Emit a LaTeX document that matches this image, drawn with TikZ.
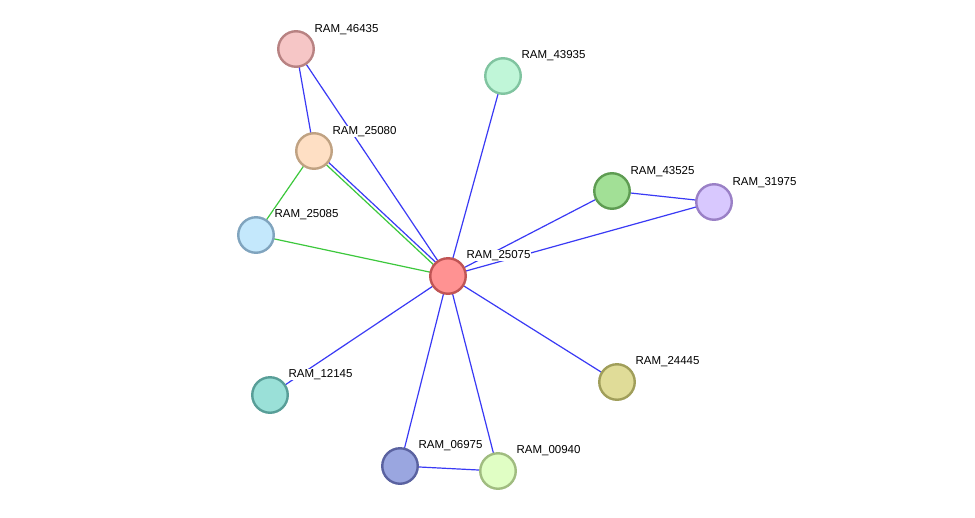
\documentclass[tikz,border=0pt]{standalone}
\usepackage{fontspec}
\setmainfont{Liberation Sans}
\definecolor{eblue}{HTML}{3A3AF5}
\definecolor{egreen}{HTML}{3CC83C}
\definecolor{fA}{HTML}{F6C6C6}\definecolor{dA}{HTML}{B88282}
\definecolor{fB}{HTML}{C0F6D8}\definecolor{dB}{HTML}{80C4A0}
\definecolor{fC}{HTML}{FEDFC4}\definecolor{dC}{HTML}{C0A282}
\definecolor{fD}{HTML}{A2E096}\definecolor{dD}{HTML}{5E9C52}
\definecolor{fE}{HTML}{D8C8FE}\definecolor{dE}{HTML}{9A80C6}
\definecolor{fF}{HTML}{C4E8FC}\definecolor{dF}{HTML}{80A4BE}
\definecolor{fG}{HTML}{FF9292}\definecolor{dG}{HTML}{C05454}
\definecolor{fH}{HTML}{E0DC98}\definecolor{dH}{HTML}{A09E5A}
\definecolor{fI}{HTML}{9AE0D8}\definecolor{dI}{HTML}{589E98}
\definecolor{fJ}{HTML}{9AA6E0}\definecolor{dJ}{HTML}{5A62A0}
\definecolor{fK}{HTML}{E0FEC4}\definecolor{dK}{HTML}{A0BC80}
\tikzset{
  prot/.style={circle, minimum size=35.5pt, inner sep=0pt, line width=2.4pt},
  lbl/.style={anchor=base west, font=\fontsize{11.5pt}{12pt}\selectfont, fill=white, inner sep=0.4pt},
  blueedge/.style={draw=eblue, line width=1.2pt},
  greenedge/.style={draw=egreen, line width=1.2pt}
}
\begin{document}
\begin{tikzpicture}[x=1pt,y=-1pt]
\useasboundingbox[fill=white] (0,0) rectangle (975,517);
% node positions
\coordinate (c46435) at (296,49);
\coordinate (c43935) at (503,76);
\coordinate (c25080) at (314,151);
\coordinate (c43525) at (612,191);
\coordinate (c31975) at (714,202);
\coordinate (c25085) at (256,235);
\coordinate (c25075) at (448,276);
\coordinate (c24445) at (617,382);
\coordinate (c12145) at (270,395);
\coordinate (c06975) at (400,466);
\coordinate (c00940) at (498,471);
% edges
\path[blueedge] (c46435) -- (c25080);
\path[blueedge] (c46435) -- (c25075);
\path[blueedge] ([xshift=1.1pt,yshift=1.2pt]c25080) -- ([xshift=1.1pt,yshift=1.2pt]c25075);
\path[greenedge] ([xshift=-1.1pt,yshift=-1.2pt]c25080) -- ([xshift=-1.1pt,yshift=-1.2pt]c25075);
\path[greenedge] (c25080) -- (c25085);
\path[greenedge] (c25085) -- (c25075);
\path[blueedge] (c43935) -- (c25075);
\path[blueedge] (c43525) -- (c25075);
\path[blueedge] (c43525) -- (c31975);
\path[blueedge] (c31975) -- (c25075);
\path[blueedge] (c24445) -- (c25075);
\path[blueedge] (c12145) -- (c25075);
\path[blueedge] (c06975) -- (c25075);
\path[blueedge] (c00940) -- (c25075);
\path[blueedge] (c06975) -- (c00940);
% nodes
\node[prot, fill=fA, draw=dA] (n46435) at (c46435) {};
\node[prot, fill=fB, draw=dB] (n43935) at (c43935) {};
\node[prot, fill=fC, draw=dC] (n25080) at (c25080) {};
\node[prot, fill=fD, draw=dD] (n43525) at (c43525) {};
\node[prot, fill=fE, draw=dE] (n31975) at (c31975) {};
\node[prot, fill=fF, draw=dF] (n25085) at (c25085) {};
\node[prot, fill=fG, draw=dG] (n25075) at (c25075) {};
\node[prot, fill=fH, draw=dH] (n24445) at (c24445) {};
\node[prot, fill=fI, draw=dI] (n12145) at (c12145) {};
\node[prot, fill=fJ, draw=dJ] (n06975) at (c06975) {};
\node[prot, fill=fK, draw=dK] (n00940) at (c00940) {};
% labels
\node[lbl] (l46435) at ([shift={(18,-17)}]n46435.center) {RAM\_46435};
\node[lbl] (l43935) at ([shift={(18,-18)}]n43935.center) {RAM\_43935};
\node[lbl] (l25080) at ([shift={(18,-17)}]n25080.center) {RAM\_25080};
\node[lbl] (l43525) at ([shift={(18,-17)}]n43525.center) {RAM\_43525};
\node[lbl] (l31975) at ([shift={(18,-17)}]n31975.center) {RAM\_31975};
\node[lbl] (l25085) at ([shift={(18,-18)}]n25085.center) {RAM\_25085};
\node[lbl] (l25075) at ([shift={(18,-18)}]n25075.center) {RAM\_25075};
\node[lbl] (l24445) at ([shift={(18,-18)}]n24445.center) {RAM\_24445};
\node[lbl] (l12145) at ([shift={(18,-18)}]n12145.center) {RAM\_12145};
\node[lbl] (l06975) at ([shift={(18,-18)}]n06975.center) {RAM\_06975};
\node[lbl] (l00940) at ([shift={(18,-18)}]n00940.center) {RAM\_00940};
\end{tikzpicture}
\end{document}
